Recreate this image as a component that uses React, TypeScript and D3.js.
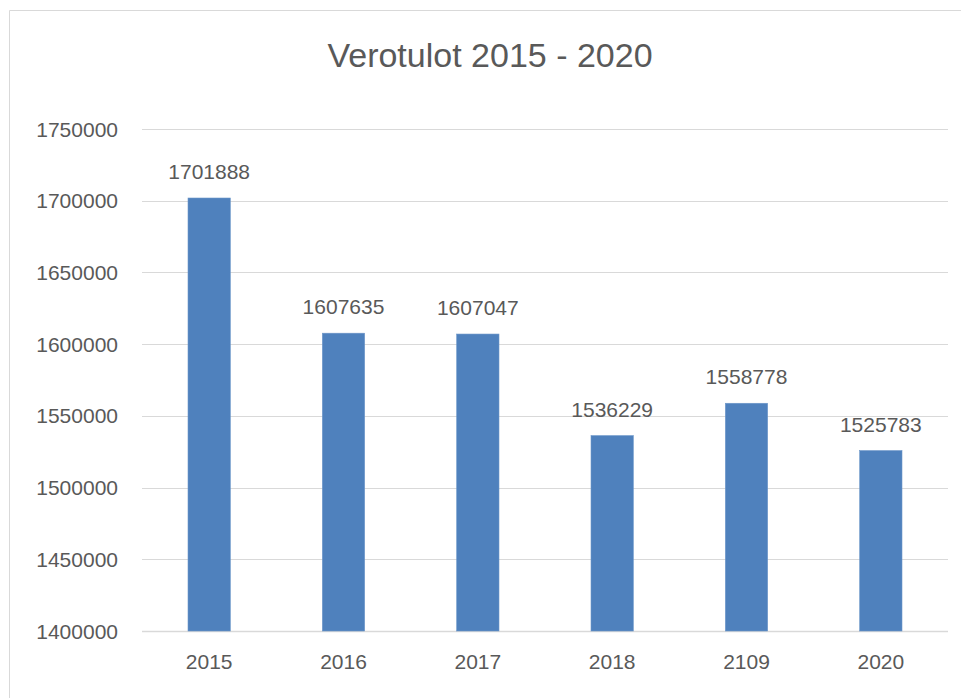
import React from "react";
import * as d3 from "d3";

const categories = ["2015", "2016", "2017", "2018", "2109", "2020"];
const values = [1701888, 1607635, 1607047, 1536229, 1558778, 1525783];
const yTicks = [1400000, 1450000, 1500000, 1550000, 1600000, 1650000, 1700000, 1750000];
const title = "Verotulot 2015 - 2020";

const W = 961;
const H = 698;
const margin = { left: 142, right: 13, top: 129, bottom: 67 };
const font = "'Liberation Sans', Arial, sans-serif";
const textColor = "#595959";

export default function App() {
  const x = d3
    .scaleBand<string>()
    .domain(categories)
    .range([margin.left, W - margin.right])
    .paddingInner(0.685)
    .paddingOuter(0.3425);
  const y = d3
    .scaleLinear()
    .domain([1400000, 1750000])
    .range([H - margin.bottom, margin.top]);

  return (
    <svg
      width={W}
      height={H}
      style={{ position: "absolute", left: 0, top: 0, background: "#fff" }}
      fontFamily={font}
    >
      <rect x={0} y={0} width={W} height={H} fill="#fff" />
      <path d={`M9.5,${H + 2} V10.5 H${W + 2}`} fill="none" stroke="#d9d9d9" strokeWidth={1} />
      <text x={490} y={67} textAnchor="middle" fontSize={34} fill={textColor}>
        {title}
      </text>
      {yTicks.map((t) => (
        <g key={t}>
          <line
            x1={margin.left}
            x2={W - margin.right}
            y1={Math.round(y(t)) + 0.5}
            y2={Math.round(y(t)) + 0.5}
            stroke="#d9d9d9"
            strokeWidth={t === 1400000 ? 1.5 : 1.2}
          />
          <text
            x={118}
            y={y(t) + 7.5}
            textAnchor="end"
            fontSize={21}
            fill={textColor}
          >
            {t}
          </text>
        </g>
      ))}
      {categories.map((c, i) => {
        const bx = x(c)!;
        const bw = x.bandwidth();
        const top = y(values[i]);
        return (
          <g key={c}>
            <rect
              x={bx}
              y={top}
              width={bw}
              height={y(1400000) - top}
              fill="#4F81BD"
              stroke="#6c96c8"
              strokeWidth={0.6}
            />
            <text
              x={bx + bw / 2}
              y={top - 19}
              textAnchor="middle"
              fontSize={21}
              fill={textColor}
            >
              {values[i]}
            </text>
            <text
              x={bx + bw / 2}
              y={669}
              textAnchor="middle"
              fontSize={21}
              fill={textColor}
            >
              {c}
            </text>
          </g>
        );
      })}
    </svg>
  );
}
